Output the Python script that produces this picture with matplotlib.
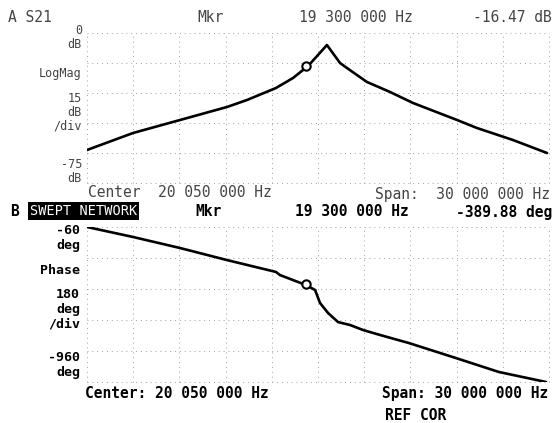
"""
Network analyzer screen dump: S21 log magnitude (A) and phase (B)
over a 30 MHz span centred on 20.05 MHz.
"""

import matplotlib
matplotlib.use('Agg')
import matplotlib.pyplot as plt
import numpy as np

MAG_FREQ_MHZ = [5.05, 8.04, 11.09, 14.14, 15.44, 17.32, 18.43, 19.40, 20.05,
                20.63, 21.48, 21.93, 23.23, 24.73, 26.22, 29.08, 30.37, 32.71, 34.92]
MAG_DB = [-58.5, -50.0, -43.5, -37.0, -33.5, -27.5, -22.5, -16.5, -11.0,
          -6.0, -15.0, -17.5, -24.5, -29.5, -35.0, -43.5, -47.5, -53.5, -60.0]

PHASE_FREQ_MHZ = [5.05, 8.04, 11.09, 14.14, 17.32, 17.58, 19.27, 19.86, 20.18,
                  20.70, 21.35, 22.13, 22.97, 24.08, 25.96, 29.01, 31.80, 34.86]
PHASE_DEG = [-60, -118, -182, -252, -321, -339, -397, -426, -501,
             -559, -612, -629, -658, -687, -734, -821, -902, -960]

CENTER_HZ = 20_050_000
SPAN_HZ = 30_000_000
MKR_HZ = 19_300_000
MKR_MAG_DB = -16.47
MKR_PHASE_DEG = -389.88

MAG_TOP, MAG_DIV = 0, 15        # dB, dB/div
PH_TOP, PH_DIV = -60, 180       # deg, deg/div
N_YDIV, N_XDIV = 5, 10

W, H = 552, 423
MONO = 'DejaVu Sans Mono'
GRID = '#a0a0a0'


def fx(px):
    return px / W


def fy(py):
    return 1 - py / H


def hz_str(v):
    return f'{v:,}'.replace(',', ' ')


f_lo = (CENTER_HZ - SPAN_HZ / 2) / 1e6
f_hi = (CENTER_HZ + SPAN_HZ / 2) / 1e6

fig = plt.figure(figsize=(W / 100, H / 100), dpi=100)
fig.patch.set_facecolor('white')

ax_mag = fig.add_axes([fx(87), fy(183), fx(549) - fx(87), fy(33) - fy(183)])
ax_ph = fig.add_axes([fx(87), fy(382), fx(549) - fx(87), fy(227) - fy(382)])


def style(ax, top, div):
    ax.set_xlim(f_lo, f_hi)
    ax.set_ylim(top - N_YDIV * div, top)
    ax.set_xticks(np.linspace(f_lo, f_hi, N_XDIV + 1))
    ax.set_yticks(np.linspace(top - N_YDIV * div, top, N_YDIV + 1))
    ax.grid(True, color=GRID, linestyle=(0, (1, 4)), linewidth=0.7)
    for gl in ax.get_xgridlines() + ax.get_ygridlines():
        gl.set_clip_on(False)
    ax.tick_params(length=0, labelbottom=False, labelleft=False)
    for s in ax.spines.values():
        s.set_visible(False)


style(ax_mag, MAG_TOP, MAG_DIV)
style(ax_ph, PH_TOP, PH_DIV)

ax_mag.plot(MAG_FREQ_MHZ, MAG_DB, color='black', lw=1.9, solid_capstyle='round')
ax_mag.plot([MKR_HZ / 1e6], [MKR_MAG_DB], 'o', ms=6, mfc='white', mec='black', mew=1.5)

ax_ph.plot(PHASE_FREQ_MHZ, PHASE_DEG, color='black', lw=1.9, solid_capstyle='round')
ax_ph.plot([MKR_HZ / 1e6], [MKR_PHASE_DEG], 'o', ms=6, mfc='white', mec='black', mew=1.5)

# ── TRACE A header (faint, thin) ───────────────────────────────────────────
faint = dict(family=MONO, fontsize=10.5, color='#444444', va='center')
faint_s = dict(faint, fontsize=8.5)
fig.text(fx(8), fy(17), 'A S21', ha='left', **faint)
fig.text(fx(197), fy(17), 'Mkr', ha='left', **faint)
fig.text(fx(299), fy(17), f'{hz_str(MKR_HZ)} Hz', ha='left', **faint)
fig.text(fx(552), fy(17), f'{MKR_MAG_DB:.2f} dB', ha='right', **faint)

fig.text(fx(82), fy(30), f'{MAG_TOP}', ha='right', **faint_s)
fig.text(fx(82), fy(45), 'dB', ha='right', **faint_s)
fig.text(fx(82), fy(73), 'LogMag', ha='right', **faint_s)
fig.text(fx(82), fy(98), f'{MAG_DIV}', ha='right', **faint_s)
fig.text(fx(82), fy(112), 'dB', ha='right', **faint_s)
fig.text(fx(82), fy(126), '/div', ha='right', **faint_s)
fig.text(fx(82), fy(164), f'{MAG_TOP - N_YDIV * MAG_DIV}', ha='right', **faint_s)
fig.text(fx(82), fy(178), 'dB', ha='right', **faint_s)

fig.text(fx(88), fy(192), f'Center  {hz_str(CENTER_HZ)} Hz', ha='left', **faint)
fig.text(fx(375), fy(194), f'Span:  {hz_str(SPAN_HZ)} Hz', ha='left', **faint)

# ── TRACE B header (bold) ──────────────────────────────────────────────────
bold = dict(family=MONO, fontsize=10.5, fontweight='bold', color='black', va='center')
bold_s = dict(bold, fontsize=9.5)
fig.text(fx(10), fy(211), 'B', ha='left', **bold)
fig.text(fx(30), fy(211), 'SWEPT NETWORK', ha='left', family=MONO, fontsize=9.8,
         color='white', va='center',
         bbox=dict(boxstyle='square,pad=0.12', facecolor='black', edgecolor='none'))
fig.text(fx(195), fy(212), 'Mkr', ha='left', **bold)
fig.text(fx(295), fy(212), f'{hz_str(MKR_HZ)} Hz', ha='left', **bold)
fig.text(fx(552), fy(212), f'{MKR_PHASE_DEG:.2f} deg', ha='right', **bold)

fig.text(fx(80), fy(230), f'{PH_TOP}', ha='right', **bold_s)
fig.text(fx(80), fy(245), 'deg', ha='right', **bold_s)
fig.text(fx(80), fy(270), 'Phase', ha='right', **bold_s)
fig.text(fx(80), fy(294), f'{PH_DIV}', ha='right', **bold_s)
fig.text(fx(80), fy(309), 'deg', ha='right', **bold_s)
fig.text(fx(80), fy(324), '/div', ha='right', **bold_s)
fig.text(fx(80), fy(357), f'{PH_TOP - N_YDIV * PH_DIV}', ha='right', **bold_s)
fig.text(fx(80), fy(372), 'deg', ha='right', **bold_s)

fig.text(fx(85), fy(393), f'Center: {hz_str(CENTER_HZ)} Hz', ha='left', **bold)
fig.text(fx(548), fy(393), f'Span: {hz_str(SPAN_HZ)} Hz', ha='right', **bold)
fig.text(fx(385), fy(415), 'REF COR', ha='left', **bold)

fig.savefig('out.png', dpi=100, facecolor='white')
